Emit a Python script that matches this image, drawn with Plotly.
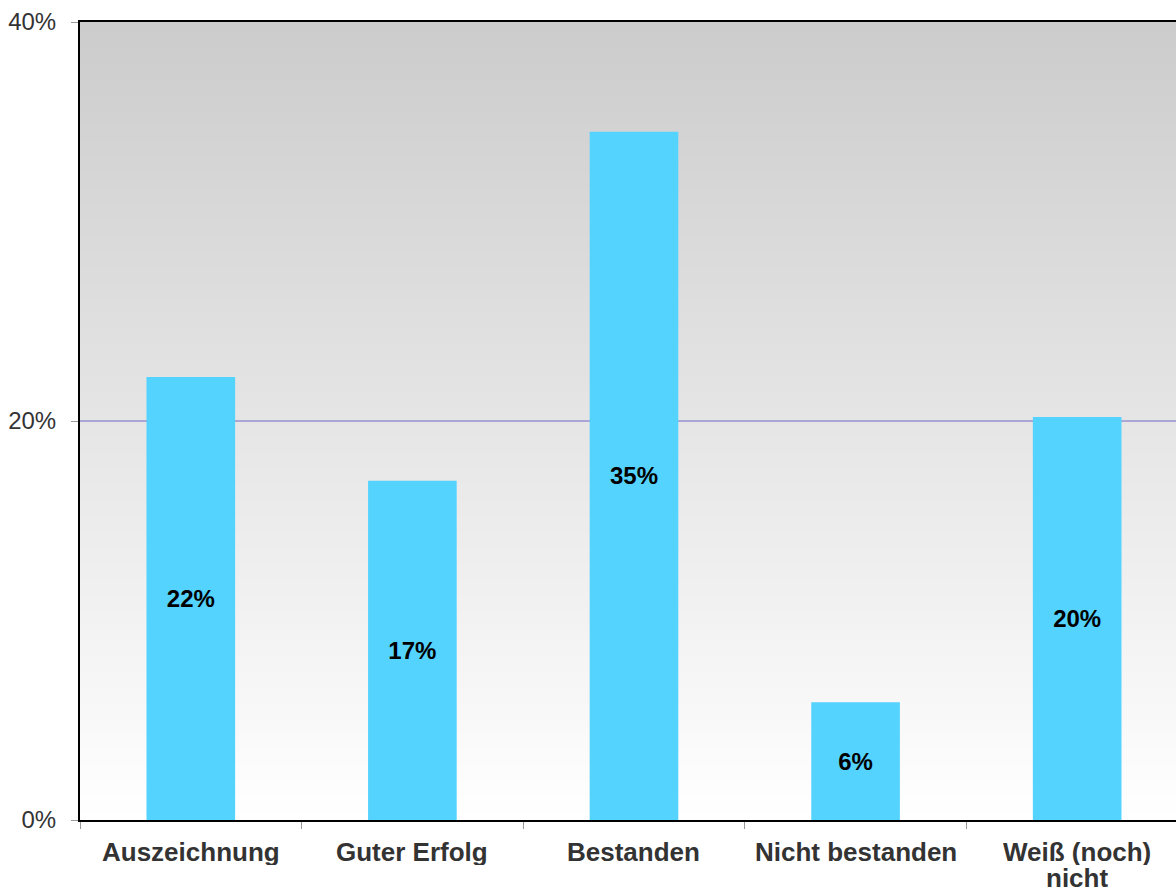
import base64, struct, zlib
import plotly.graph_objects as go

categories = ["Auszeichnung", "Guter Erfolg", "Bestanden", "Nicht bestanden", "Weiß (noch)<br>nicht"]
values = [22.2, 17.0, 34.5, 5.9, 20.2]
labels = ["22%", "17%", "35%", "6%", "20%"]
y_ticks = [0, 20, 40]
y_ticktext = ["0%", "20%", "40%"]


def gradient_png(top=204, bottom=255, h=256):
    raw = b""
    for i in range(h):
        v = round(top + (bottom - top) * i / (h - 1))
        raw += b"\x00" + bytes([v, v, v])
    def chunk(t, d):
        c = struct.pack(">I", len(d)) + t + d
        return c + struct.pack(">I", zlib.crc32(t + d) & 0xffffffff)
    png = b"\x89PNG\r\n\x1a\n"
    png += chunk(b"IHDR", struct.pack(">IIBBBBB", 1, h, 8, 2, 0, 0, 0))
    png += chunk(b"IDAT", zlib.compress(raw))
    png += chunk(b"IEND", b"")
    return "data:image/png;base64," + base64.b64encode(png).decode()


FONT = "Liberation Sans, Arial, Helvetica, sans-serif"

fig = go.Figure()
fig.add_trace(go.Bar(
    x=categories, y=values, text=labels,
    marker=dict(color="#55d3ff", line=dict(width=0)),
    width=0.4,
    textposition="inside", insidetextanchor="middle",
    textfont=dict(family=FONT, size=24, color="black", weight="bold"),
    constraintext="none",
    hoverinfo="skip",
))

fig.add_layout_image(dict(
    source=gradient_png(), xref="paper", yref="paper", x=0, y=1,
    sizex=1, sizey=1, sizing="stretch", layer="below", xanchor="left", yanchor="top",
))

# category labels (tight line spacing like the reference)
for cat in categories:
    for j, line in enumerate(cat.split("<br>")):
        fig.add_annotation(
            x=cat, xref="x", y=0, yref="paper",
            text=line, showarrow=False,
            xanchor="center", yanchor="middle", height=26, borderpad=0,
            yshift=-(32 + 26 * j),
            font=dict(family=FONT, size=26, color="#333333", weight="bold"),
        )

fig.update_layout(
    width=1176, height=892,
    margin=dict(l=80, r=0, t=22, b=72, autoexpand=False),
    paper_bgcolor="white", plot_bgcolor="rgba(0,0,0,0)",
    showlegend=False,
    font=dict(family=FONT),
    xaxis=dict(
        type="category", range=[-0.5, 4.446],
        showline=True, linecolor="black", linewidth=2, mirror=True,
        ticks="outside", tickson="boundaries", ticklen=7, tickcolor="#999999",
        showgrid=False, automargin=False, showticklabels=False,
    ),
    yaxis=dict(
        range=[0, 40], tickvals=y_ticks, ticktext=y_ticktext,
        showline=True, linecolor="black", linewidth=2,
        ticks="outside", ticklen=7, tickcolor="#999999",
        showgrid=True, gridcolor="#aaa6d6", gridwidth=1.5,
        zeroline=False, automargin=False,
        tickfont=dict(size=24, color="#333333"),
        ticklabelstandoff=10,
    ),
)

fig.write_html(
    "out.html",
    config={"displayModeBar": False},
    post_script="document.body.style.margin='0';document.body.style.overflow='hidden';",
)
